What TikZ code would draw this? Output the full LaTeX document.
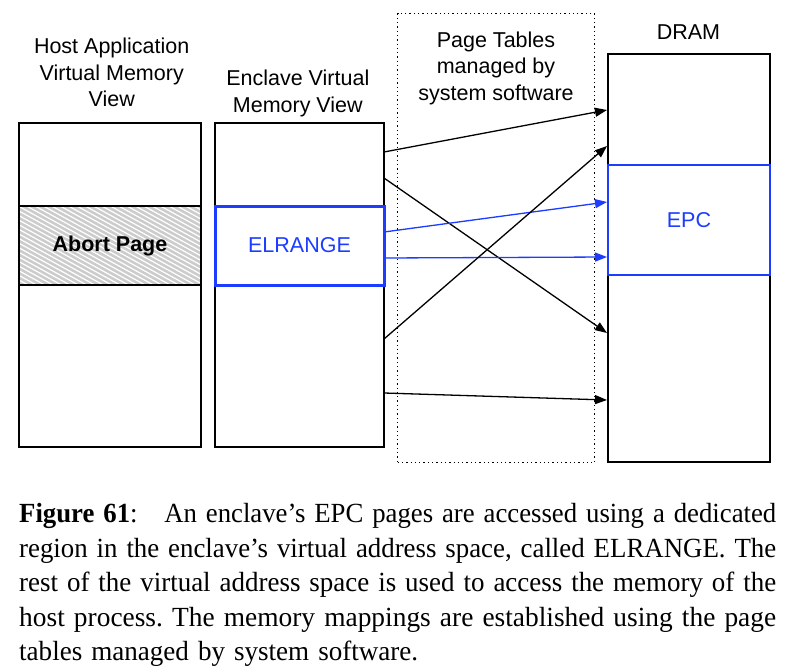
\documentclass[tikz,border=0pt]{standalone}
\usepackage{fontspec}
\usepackage{graphicx}
\setmainfont{Liberation Sans}
\newfontfamily\capfont{Liberation Serif}
\usetikzlibrary{arrows.meta}
\definecolor{eblue}{RGB}{28,60,255}
\definecolor{hatchgray}{RGB}{204,204,204}
\tikzset{
  region/.style={draw=black,line width=1.3pt,inner sep=0pt,outer sep=0pt,anchor=north west},
  lbl/.style={font=\fontsize{21.5}{26.6}\selectfont,align=center,inner sep=0pt,anchor=north},
  boxtxt/.style={font=\fontsize{21.5}{26.6}\selectfont,inner sep=0pt},
  map/.style={line width=1.3pt,-{Triangle[length=12pt,width=9pt]}},
  bmap/.style={map,draw=eblue,fill=eblue},
  ptbox/.style={draw=black,line width=1.3pt,dash pattern=on 1.3pt off 3pt,inner sep=0pt,anchor=north west}
}
\newcommand\capsetup{\capfont\fontsize{27.7}{34.5}\selectfont\frenchspacing}
\newcommand\capline[2]{\hbox{\resizebox{#1}{\height}{#2}}}
\begin{document}
\begin{tikzpicture}[x=1pt,y=-1pt]
\useasboundingbox (0,0) rectangle (804,672);
% host application view
\node[region,minimum width=182pt,minimum height=324pt] (host) at (19,123) {};
\begin{scope}
  \clip (19,206) rectangle (201,285);
  \fill[hatchgray] (19,206) rectangle (201,285);
  \foreach \i in {0,4.6,...,210} \draw[white,line width=1.2pt] (19,96+\i) -- ++(200,110);
\end{scope}
\node[region,minimum width=182pt,minimum height=79pt] (abort) at (19,206) {};
\node[boxtxt,font=\fontsize{21.5}{26.6}\selectfont\bfseries] (aborttxt) at (110,245.5) {Abort Page};
% enclave view
\node[region,minimum width=169pt,minimum height=324pt] (encl) at (215,123) {};
\node[region,draw=eblue,line width=3pt,minimum width=169pt,minimum height=79pt] (elr) at (215,206) {};
\node[boxtxt,text=eblue] (elrtxt) at (299.5,245.5) {ELRANGE};
% page tables
\node[ptbox,minimum width=197pt,minimum height=449pt] (pt) at (397,13) {};
% DRAM
\node[region,minimum width=162pt,minimum height=408pt] (dram) at (608,54) {};
\node[region,draw=eblue,minimum width=162pt,minimum height=110pt] (epc) at (608,165) {};
\node[boxtxt,text=eblue] (epctxt) at (689,220.5) {EPC};
% labels
\node[lbl] (hostlbl) at (111.7,38) {Host Application\\Virtual Memory\\View};
\node[lbl] (encllbl) at (297.8,70) {Enclave Virtual\\Memory View};
\node[lbl] (ptlbl) at (496,31.5) {Page Tables\\managed by\\system software};
\node[lbl] (dramlbl) at (688.5,25) {DRAM};
% mapping end points
\coordinate (s1) at (384,152);
\coordinate (s2) at (384,178);
\coordinate (s3) at (384,232);
\coordinate (s4) at (384,258);
\coordinate (s5) at (384,339);
\coordinate (s6) at (384,393);
\coordinate (t1) at (607,110);
\coordinate (t2) at (607,333);
\coordinate (t3) at (607,202);
\coordinate (t4) at (607,257);
\coordinate (t5) at (607,146);
\coordinate (t6) at (607,400);
\draw[map] (s1) -- (t1);
\draw[map] (s2) -- (t2);
\draw[bmap] (s3) -- (t3);
\draw[bmap] (s4) -- (t4);
\draw[map] (s5) -- (t5);
\draw[map] (s6) -- (t6);
% caption
\node[anchor=north west,inner sep=0pt,text width=757pt,font=\capsetup] (cap) at (19,503.5) {%
\capline{757pt}{\textbf{Figure 61}:\ \ \ An enclave’s EPC pages are accessed using a dedicated}
\capline{757pt}{region in the enclave’s virtual address space, called ELRANGE. The}
\capline{757pt}{rest of the virtual address space is used to access the memory of the}
\capline{757pt}{host process. The memory mappings are established using the page}
\capline{399pt}{tables managed by system software.}};
\end{tikzpicture}
\end{document}
